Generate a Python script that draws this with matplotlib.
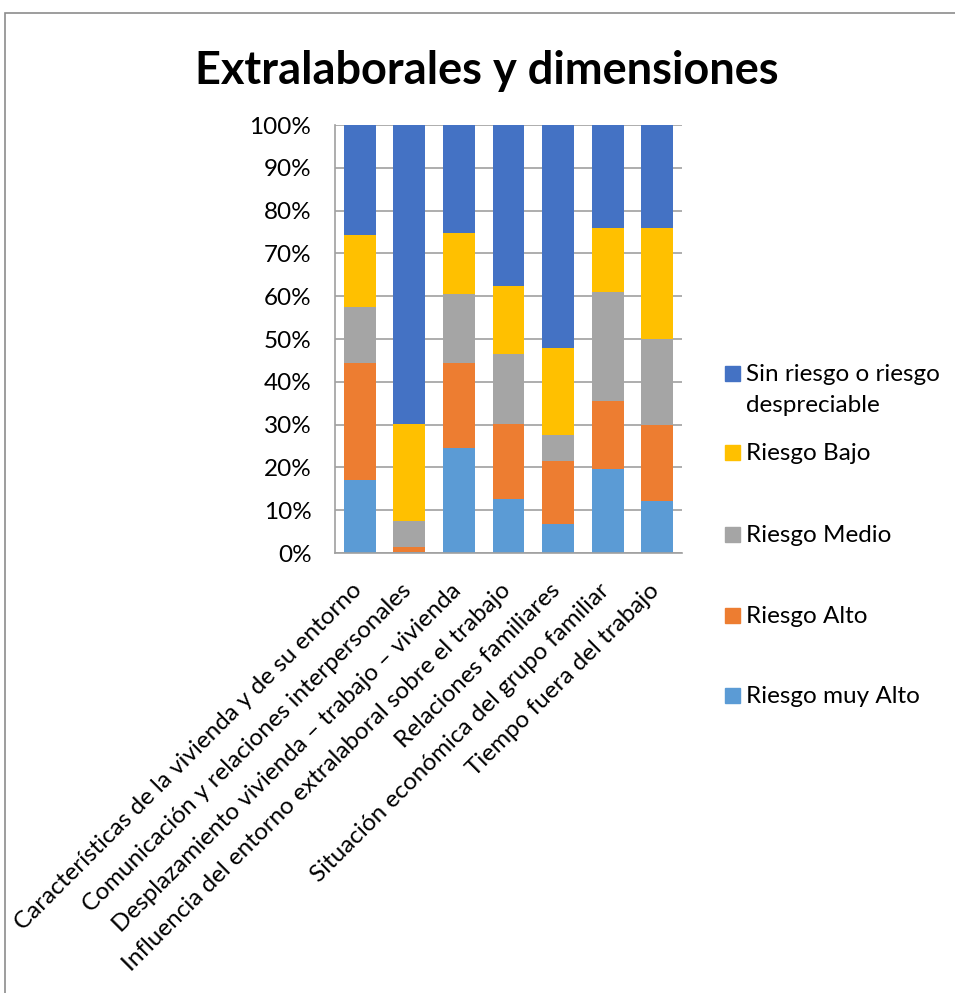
import matplotlib.pyplot as plt
import matplotlib.transforms as mtransforms
import numpy as np
from matplotlib.patches import Rectangle

plt.rcParams['font.family'] = ['Lato', 'DejaVu Sans']

# Dimensiones evaluadas
categorias = [
    "Características de la vivienda y de su entorno",
    "Comunicación y relaciones interpersonales",
    "Desplazamiento vivienda – trabajo – vivienda",
    "Influencia del entorno extralaboral sobre el trabajo",
    "Relaciones familiares",
    "Situación económica del grupo familiar",
    "Tiempo fuera del trabajo",
]

# Porcentajes por nivel de riesgo (de abajo hacia arriba)
muy_alto = [17.1, 0.3, 24.6, 12.7, 6.8, 19.7, 12.2]
alto = [27.3, 1.0, 19.8, 17.5, 14.8, 15.9, 17.8]
medio = [13.1, 6.2, 16.1, 16.3, 6.0, 25.4, 20.0]
bajo = [16.9, 22.7, 14.3, 15.9, 20.3, 15.0, 26.0]
sin_riesgo = [25.6, 69.8, 25.2, 37.6, 52.1, 24.0, 24.0]

series = [muy_alto, alto, medio, bajo, sin_riesgo]
nombres = ["Riesgo muy Alto", "Riesgo Alto", "Riesgo Medio", "Riesgo Bajo",
           "Sin riesgo o riesgo\ndespreciable"]
colores = ["#5B9BD5", "#ED7D31", "#A5A5A5", "#FFC000", "#4472C4"]

W, H = 955, 993
fig = plt.figure(figsize=(W / 100, H / 100), dpi=100)
ax = fig.add_axes([335 / W, 1 - 553 / H, 347 / W, 428 / H])

x = np.arange(len(categorias))
base = np.zeros(len(categorias))
for vals, col in zip(series, colores):
    ax.bar(x, vals, 0.64, bottom=base, color=col, zorder=2)
    base += np.array(vals)

ax.set_xlim(-0.5, len(categorias) - 0.5)
ax.set_ylim(0, 100)
ax.set_yticks(np.arange(0, 101, 10))
ax.set_yticklabels([f"{v}%" for v in range(0, 101, 10)], fontsize=17.5)
ax.yaxis.grid(True, color="#A0A0A0", linewidth=1.2, zorder=0)
ax.tick_params(axis="y", length=0, pad=17)
ax.tick_params(axis="x", length=0, pad=19)
ax.set_xticks(x)
ax.set_xticklabels(categorias, rotation=45, ha="right", rotation_mode="anchor",
                   fontsize=17.5)
# desplazar un poco las etiquetas a la izquierda
desp = mtransforms.ScaledTranslation(-9 / 100, 0, fig.dpi_scale_trans)
for lbl in ax.get_xticklabels():
    lbl.set_transform(lbl.get_transform() + desp)
for s in ["top", "right"]:
    ax.spines[s].set_visible(False)
for s in ["left", "bottom"]:
    ax.spines[s].set_color("#A0A0A0")
    ax.spines[s].set_linewidth(1.2)

fig.text(487 / W, 1 - 71 / H, "Extralaborales y dimensiones", ha="center",
         va="center", fontsize=32.5, fontweight="bold")

# Leyenda dibujada a mano (orden inverso al apilado)
ley_y = [373, 452, 534, 615, 695]
for nom, col, yy in zip(nombres[::-1], colores[::-1], ley_y):
    fig.patches.append(Rectangle((725 / W, 1 - (yy + 7.5) / H), 15 / W, 15 / H,
                                 transform=fig.transFigure, color=col))
    fig.text(746 / W, 1 - (yy - 9) / H, nom, ha="left", va="top", fontsize=17.5,
             linespacing=1.6)

# Marco del area del grafico
fig.patches.append(Rectangle((5 / W, -0.1), 1.2, 1 - 13 / H + 0.1,
                             transform=fig.transFigure, fill=False,
                             edgecolor="#8C8C8C", linewidth=1.2))

fig.savefig("out.png", dpi=100)
